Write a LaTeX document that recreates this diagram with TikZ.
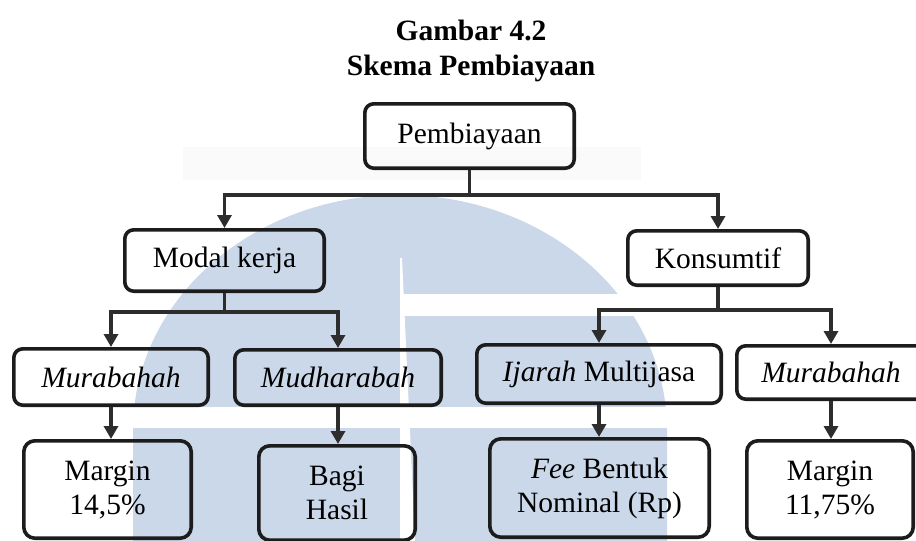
\documentclass[tikz,border=0pt]{standalone}
\usepackage{fontspec}
\setmainfont{Liberation Serif}
\usetikzlibrary{arrows.meta}

\definecolor{wmblue}{RGB}{203,216,234}
\definecolor{boxline}{RGB}{28,28,28}
\definecolor{linkline}{RGB}{45,45,45}

\newcommand\diagfont{\fontsize{29.5}{34}\selectfont}
\newcommand\headfont{\fontsize{29.5}{35}\selectfont\bfseries}

\begin{document}
\begin{tikzpicture}[x=1pt,y=-1pt,
  box/.style={draw=boxline, line width=3.6pt, rounded corners=9pt,
              inner sep=0pt, align=center, font=\diagfont, text=black},
  link/.style={draw=linkline, line width=3.8pt},
  arr/.style={link, -{Triangle[width=14pt,length=13pt]}},
]
\useasboundingbox (0,0) rectangle (916,541);
\clip (0,0) rectangle (916,541);

% background emblem
\fill[black!2] (183,147) rectangle (641,180);
\fill[wmblue] (133,541) -- (133,430)
  arc[start angle=180, end angle=360, x radius=267, y radius=235]
  -- (667,541) -- cycle;
\fill[white] (400,258) -- (402,258) -- (415,541) -- (400,541) -- cycle;
\fill[white] (402,294) rectangle (680,316);
\fill[white] (120,407) rectangle (680,428);

% heading
\node[font=\headfont, anchor=base] (t1) at (471,40) {Gambar 4.2};
\node[font=\headfont, anchor=base] (t2) at (471,75) {Skema Pembiayaan};

% boxes
\node[box, minimum width=209.4pt, minimum height=64.4pt] (root)   at (469.5,136)  {Pembiayaan};
\node[box, minimum width=199.4pt, minimum height=61.4pt] (modal)  at (224.5,260.5) {Modal kerja};
\node[box, minimum width=180.4pt, minimum height=54.4pt] (konsum) at (718,258)    {Konsumtif};

\node[box, minimum width=194.4pt, minimum height=56.4pt] (murL)   at (111,377)    {\textit{Murabahah}};
\node[box, minimum width=206.4pt, minimum height=55.4pt] (mudh)   at (338,377.5)  {\textit{Mudharabah}};
\node[box, minimum width=244.4pt, minimum height=58.4pt] (ijarah) at (599,374)    {\textit{Ijarah} Multijasa};
\node[box, minimum width=188.4pt, minimum height=53.4pt] (murR)   at (831,372.5)  {\textit{Murabahah}};

\node[box, minimum width=167.4pt, minimum height=97.4pt, rounded corners=11pt] (marginL) at (107.5,489.5) {Margin\\14,5\%};
\node[box, minimum width=156.4pt, minimum height=94.4pt, rounded corners=11pt] (bagi)    at (337,493)     {Bagi\\Hasil};
\node[box, minimum width=219.4pt, minimum height=98.4pt, rounded corners=11pt] (fee)     at (599.5,488)   {\textit{Fee} Bentuk\\Nominal (Rp)};
\node[box, minimum width=166.4pt, minimum height=97.4pt, rounded corners=11pt] (marginR) at (830,489.5)   {Margin\\11,75\%};

% branching levels
\coordinate (lv1)  at (0,195);
\coordinate (lv2a) at (0,312);
\coordinate (lv2b) at (0,310);

% connectors
\draw[link] (root.south) -- (root.south |- lv1);
\draw[arr] (root.south |- lv1) -| (modal.north);
\draw[arr] (root.south |- lv1) -| (konsum.north);

\draw[link] (modal.south) -- (modal.south |- lv2a);
\draw[arr] (modal.south |- lv2a) -| (murL.north);
\draw[arr] (modal.south |- lv2a) -| (mudh.north);

\draw[link] (konsum.south) -- (konsum.south |- lv2b);
\draw[arr] (konsum.south |- lv2b) -| (ijarah.north);
\draw[arr] (konsum.south |- lv2b) -| (murR.north);

\draw[arr] (murL.south)   -- (murL.south |- marginL.north);
\draw[arr] (mudh.south)   -- (mudh.south |- bagi.north);
\draw[arr] (ijarah.south) -- (ijarah.south |- fee.north);
\draw[arr] (murR.south)   -- (murR.south |- marginR.north);
\end{tikzpicture}
\end{document}
